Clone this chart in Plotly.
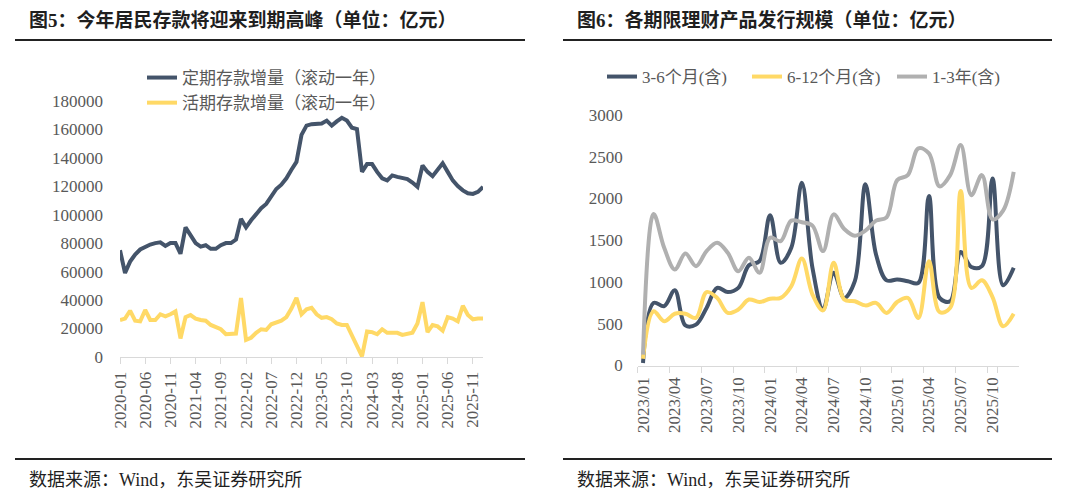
import plotly.graph_objects as go

# ---------------- Data: left chart (亿元) ----------------
months_left = [f"{y}-{m:02d}" for y in range(2020, 2027) for m in range(1, 13)][:73]
fixed_dep = [75000, 59000, 67000, 72000, 75500, 77500, 79000, 80000, 80500, 78000,
             80000, 80000, 72500, 91000, 85000, 80000, 77500, 78500, 76000, 76000,
             78500, 80000, 80000, 82500, 97000, 91000, 96000, 100500, 104500, 107500,
             113000, 118000, 121000, 125500, 131500, 137000, 156000, 162500, 163500, 163500,
             164000, 166000, 162500, 165500, 168000, 166000, 161000, 160000, 130000, 135500,
             135500, 130000, 125500, 124000, 127500, 126500, 126000, 125000, 122500, 119500,
             134500, 130000, 127000, 131500, 136000, 130000, 124000, 120000, 117000, 115000,
             114500, 116000, 119500]
demand_dep = [26000, 27000, 32500, 25500, 25000, 33000, 26000, 26000, 30000, 28500,
              30000, 32000, 13000, 28000, 29500, 27000, 26000, 25500, 22500, 21000,
              19500, 16000, 16000, 16500, 41500, 12000, 13500, 17000, 19500, 19000,
              23000, 24000, 25500, 28000, 34000, 41500, 30000, 33500, 34500, 30000,
              27500, 28000, 26500, 23500, 22500, 22500, 15000, 7500, 500, 18000,
              17500, 16000, 19500, 17000, 17000, 17000, 15500, 16000, 17000, 23500,
              38500, 17500, 22500, 21500, 18500, 28000, 27000, 25000, 36000, 29500,
              26500, 27000, 27000]
left_names = ["定期存款增量（滚动一年）", "活期存款增量（滚动一年）"]

# ---------------- Data: right chart (亿元) ----------------
months_right = [f"{y}/{m:02d}" for y in range(2023, 2026) for m in range(1, 13)]
wm_3_6m = [30, 750, 710, 900, 480, 490, 690, 930, 880, 930,
           1200, 1250, 1800, 1230, 1410, 2190, 1170, 670, 1110, 810,
           1010, 2170, 1330, 1020, 1030, 1010, 990, 2030, 810, 770,
           1360, 1180, 1190, 2240, 960, 1170]
wm_6_12m = [80, 650, 530, 620, 620, 570, 880, 810, 630, 670,
            790, 760, 800, 810, 950, 1280, 850, 660, 1230, 790,
            770, 720, 750, 630, 760, 810, 570, 1250, 640, 690,
            2090, 930, 1020, 820, 470, 620]
wm_1_3y = [130, 1815, 1410, 1150, 1340, 1190, 1370, 1470, 1350, 1130,
           1290, 1110, 1530, 1490, 1735, 1715, 1675, 1370, 1810, 1635,
           1555, 1615, 1735, 1775, 2220, 2280, 2600, 2540, 2145, 2280,
           2640, 2040, 2280, 1750, 1855, 2320]
right_names = ["3-6个月(含)", "6-12个月(含)", "1-3年(含)"]

NAVY = "#44546A"
YELLOW = "#FFD966"
GRAY = "#B0B0B0"
TXT = "#595959"
FONT = "Liberation Serif, Noto Sans CJK SC, serif"
W, H = 1080, 498


def px(x):
    return x / W


def py(y):
    return (H - y) / H


fig = go.Figure()
fig.add_trace(go.Scatter(x=months_left, y=fixed_dep, name=left_names[0], mode="lines",
                         line=dict(color=NAVY, width=4), xaxis="x", yaxis="y", legend="legend"))
fig.add_trace(go.Scatter(x=months_left, y=demand_dep, name=left_names[1], mode="lines",
                         line=dict(color=YELLOW, width=4), xaxis="x", yaxis="y", legend="legend"))
for vals, nm, col in zip([wm_3_6m, wm_6_12m, wm_1_3y], right_names, [NAVY, YELLOW, GRAY]):
    fig.add_trace(go.Scatter(x=months_right, y=vals, name=nm, mode="lines",
                             line=dict(color=col, width=4, shape="spline", smoothing=1.0),
                             xaxis="x2", yaxis="y2", legend="legend2"))

tickfont = dict(family=FONT, size=17, color=TXT)
fig.update_layout(
    width=W, height=H, margin=dict(l=0, r=0, t=0, b=0, autoexpand=False),
    paper_bgcolor="white", plot_bgcolor="white",
    font=dict(family=FONT, color=TXT),
    xaxis=dict(domain=[px(120), px(483)], type="category", range=[0, 72],
               tickmode="array", tickvals=months_left[::5], tickangle=-90,
               ticks="outside", ticklen=6, tickcolor="#D9D9D9",
               showline=True, linecolor="#D9D9D9", linewidth=1,
               showgrid=False, zeroline=False, tickfont=tickfont,
               automargin=False, anchor="y", ticklabelstandoff=1),
    yaxis=dict(domain=[py(357), py(100.7)], range=[0, 180000], dtick=20000, tickformat="d",
               showgrid=False, zeroline=False, showline=False, tickfont=tickfont,
               automargin=False, anchor="x", ticklabelstandoff=16),
    xaxis2=dict(domain=[px(637.7), px(1019)], type="category", range=[-0.5, 35.5],
                tickmode="array", tickvals=months_right[::3], tickangle=-90, tickson="boundaries",
                ticks="outside", ticklen=6, tickcolor="#D9D9D9",
                showline=True, linecolor="#D9D9D9", linewidth=1,
                showgrid=False, zeroline=False, tickfont=tickfont,
                automargin=False, anchor="y2", ticklabelstandoff=4),
    yaxis2=dict(domain=[py(365.5), py(115)], range=[0, 3000], dtick=500,
                showgrid=False, zeroline=False, showline=False, tickfont=tickfont,
                automargin=False, anchor="x2", ticklabelstandoff=14),
    legend=dict(x=px(142), y=py(60), xanchor="left", yanchor="top", orientation="v",
                font=dict(family=FONT, size=17, color=TXT), bgcolor="rgba(0,0,0,0)",
                tracegroupgap=0, itemwidth=30),
    legend2=dict(x=px(602), y=py(59), xanchor="left", yanchor="top", orientation="h",
                 font=dict(family=FONT, size=17, color=TXT), bgcolor="rgba(0,0,0,0)",
                 entrywidth=100, entrywidthmode="pixels"),
    showlegend=True,
)

annotations = [
    dict(text="<b>图5：今年居民存款将迎来到期高峰（单位：亿元）</b>", x=px(27), y=py(20)),
    dict(text="<b>图6：各期限理财产品发行规模（单位：亿元）</b>", x=px(575), y=py(20)),
    dict(text="数据来源：Wind，东吴证券研究所", x=px(27), y=py(480), size=18),
    dict(text="数据来源：Wind，东吴证券研究所", x=px(575), y=py(480), size=18),
]
for a in annotations:
    fig.add_annotation(text=a["text"], x=a["x"], y=a["y"], xref="paper", yref="paper",
                       xanchor="left", yanchor="middle", showarrow=False,
                       font=dict(family=FONT, size=a.get("size", 19), color="#1F1F1F"))

for x0, x1, y in [(15, 525, 40), (563, 1052, 40), (15, 525, 459), (563, 1052, 459)]:
    fig.add_shape(type="line", xref="paper", yref="paper", x0=px(x0), x1=px(x1),
                  y0=py(y), y1=py(y), line=dict(color="#222222", width=2))

fig.write_html("out.html")
